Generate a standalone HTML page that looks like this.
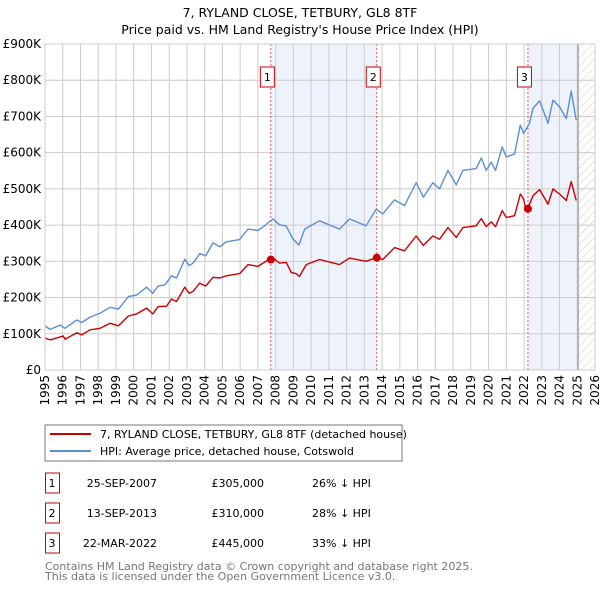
<!DOCTYPE html>
<html><head><meta charset="utf-8"><style>
body{margin:0;width:600px;height:590px;background:#fff;font-family:"Liberation Sans","DejaVu Sans",sans-serif;overflow:hidden}
svg text{font-family:"DejaVu Sans","Liberation Sans",sans-serif}
</style></head><body>
<svg id="c" width="600" height="590" xmlns="http://www.w3.org/2000/svg">
<defs><pattern id="hatch" width="6" height="6" patternUnits="userSpaceOnUse" patternTransform="rotate(45)"><line x1="0" y1="0" x2="0" y2="6" stroke="#ccc" stroke-width="1"/></pattern></defs>
<text x="300" y="17" text-anchor="middle" font-size="12.5">7, RYLAND CLOSE, TETBURY, GL8 8TF</text>
<text x="300" y="34" text-anchor="middle" font-size="12.5">Price paid vs. HM Land Registry's House Price Index (HPI)</text>
<g id="plot"></g>
<rect x="45" y="425" width="357" height="36" fill="#fff" stroke="#777"/>
<line x1="50" y1="434" x2="91" y2="434" stroke="#cc0000" stroke-width="2"/>
<text x="100" y="438" font-size="11">7, RYLAND CLOSE, TETBURY, GL8 8TF (detached house)</text>
<line x1="50" y1="451" x2="91" y2="451" stroke="#5b8fd6" stroke-width="2"/>
<text x="100" y="455" font-size="11">HPI: Average price, detached house, Cotswold</text>
<g id="tbl" font-size="11"></g>
<text x="45" y="570" font-size="11" fill="#777">Contains HM Land Registry data © Crown copyright and database right 2025.</text>
<text x="45" y="580" font-size="11" fill="#777">This data is licensed under the Open Government Licence v3.0.</text>
</svg>
<script>
const hpiYears=[1995.0,1995.28,1995.84,1996.13,1996.79,1997.07,1997.54,1998.11,1998.67,1999.14,1999.7,2000.17,2000.73,2001.07,2001.38,2001.76,2002.13,2002.41,2002.88,2003.13,2003.35,2003.72,2004.06,2004.47,2004.85,2005.22,2005.97,2006.44,2007.0,2007.29,2007.85,2008.22,2008.6,2008.97,2009.31,2009.64,2010.47,2011.6,2012.16,2013.1,2013.66,2014.04,2014.7,2015.26,2015.92,2016.33,2016.86,2017.24,2017.71,2018.18,2018.55,2019.3,2019.59,2019.87,2020.15,2020.39,2020.77,2021.0,2021.47,2021.79,2021.97,2022.31,2022.5,2022.88,2023.35,2023.63,2024.0,2024.38,2024.66,2024.94];
const hpiValues=[122,112,124,115,138,131,146,157,173,168,203,207,229,212,232,235,260,254,306,288,295,321,315,351,340,354,360,389,385,395,417,401,397,362,345,389,412,389,417,398,444,431,470,454,517,477,517,500,551,511,551,556,585,551,574,551,616,588,597,676,653,681,722,743,681,745,727,694,770,690];
const propYears=[1995.0,1995.28,1996.03,1996.13,1996.79,1997.07,1997.54,1998.11,1998.67,1999.14,1999.7,2000.17,2000.73,2001.07,2001.38,2001.85,2002.13,2002.41,2002.88,2003.13,2003.35,2003.72,2004.06,2004.47,2004.85,2005.22,2005.97,2006.44,2007.0,2007.29,2007.63,2007.85,2008.22,2008.6,2008.88,2009.16,2009.34,2009.72,2010.47,2011.6,2012.16,2013.1,2013.66,2014.04,2014.7,2015.26,2015.92,2016.33,2016.86,2017.24,2017.71,2018.18,2018.55,2019.3,2019.59,2019.87,2020.15,2020.39,2020.77,2021.0,2021.47,2021.79,2021.97,2022.1,2022.31,2022.5,2022.88,2023.35,2023.63,2024.0,2024.38,2024.66,2024.94];
const propValues=[88,83,94,85,103,97,111,115,129,122,149,155,171,155,175,176,196,189,229,212,217,240,232,256,254,260,266,291,286,295,305,309,295,297,269,266,258,291,305,291,309,300,310,305,338,329,370,344,370,361,393,366,393,398,418,396,409,396,440,421,426,486,472,445,458,481,498,458,500,486,468,520,468];
const saleYears=[2007.73,2013.70,2022.22];
const saleValues=[305,310,445];
const saleLabels=["1","2","3"];
const saleDates=["25-SEP-2007","13-SEP-2013","22-MAR-2022"];
const salePrices=["£305,000","£310,000","£445,000"];
const saleDiffs=["26% ↓ HPI","28% ↓ HPI","33% ↓ HPI"];
const yTicks=[0,100,200,300,400,500,600,700,800,900];
const yTickLabels=["£0","£100K","£200K","£300K","£400K","£500K","£600K","£700K","£800K","£900K"];
const xTicks=[1995,1996,1997,1998,1999,2000,2001,2002,2003,2004,2005,2006,2007,2008,2009,2010,2011,2012,2013,2014,2015,2016,2017,2018,2019,2020,2021,2022,2023,2024,2025,2026];
const dataEnd=2025.05;

const NS="http://www.w3.org/2000/svg";
const X0=45,X1=595,Y0=370,Y1=44;
const xs=y=>X0+(y-1995)/(2026-1995)*(X1-X0);
const ys=v=>Y0-v/900*(Y0-Y1);
const plot=document.getElementById('plot');
function mk(tag,attrs,parent){const e=document.createElementNS(NS,tag);for(const k in attrs)e.setAttribute(k,attrs[k]);(parent||plot).appendChild(e);return e;}
let s=mk('rect',{x:xs(saleYears[0]),y:Y1,width:xs(saleYears[1])-xs(saleYears[0]),height:Y0-Y1,fill:'#eef2fb'});


s=mk('rect',{x:xs(saleYears[2]),y:Y1,width:xs(dataEnd)-xs(saleYears[2]),height:Y0-Y1,fill:'#eef2fb'});


s=mk('rect',{x:xs(dataEnd),y:Y1,width:X1-xs(dataEnd),height:Y0-Y1,fill:'url(#hatch)'});


yTicks.forEach((v,i)=>{
 const l=mk('line',{x1:X0,x2:X1,y1:ys(v),y2:ys(v),stroke:'#ccc','stroke-width':1});
 
 
 const t=mk('text',{x:X0-4,y:ys(v)+4,'text-anchor':'end','font-size':'12'});
 t.textContent=yTickLabels[i];
 
 
});
xTicks.forEach(yr=>{
 const l=mk('line',{x1:xs(yr),x2:xs(yr),y1:Y1,y2:Y0,stroke:'#ccc','stroke-width':1});
 
 
 const t=mk('text',{x:0,y:0,'text-anchor':'end','font-size':'12',transform:`translate(${xs(yr)+4},${Y0+5}) rotate(-90)`});
 t.textContent=yr;
 
 
});
let dl=mk('line',{x1:xs(dataEnd),x2:xs(dataEnd),y1:Y1,y2:Y0,stroke:'#888','stroke-width':1});


saleYears.forEach((yr,i)=>{
 const l=mk('line',{x1:xs(yr),x2:xs(yr),y1:Y1,y2:Y0,stroke:'#e55','stroke-width':1,'stroke-dasharray':'2,2'});
 
 
 const b=mk('rect',{x:xs(yr)-10.5,y:67,width:14,height:20,fill:'#fff',stroke:'#cc0000','stroke-width':1});
 
 
 const t=mk('text',{x:xs(yr)-3.5,y:81,'text-anchor':'middle','font-size':'11'});
 t.textContent=saleLabels[i];
 
 
});
function line(xa,va,col,name){
 const d=xa.map((yr,i)=>(i?'L':'M')+xs(yr).toFixed(1)+','+ys(va[i]).toFixed(1)).join('');
 const p=mk('path',{d:d,fill:'none',stroke:col,'stroke-width':1.4,'stroke-linejoin':'round'});
 
 
}
line(hpiYears,hpiValues,'#5b8fd6','hpi-line');
line(propYears,propValues,'#cc0000','property-price-line');
saleYears.forEach((yr,i)=>{
 const c=mk('circle',{cx:xs(yr),cy:ys(saleValues[i]),r:4,fill:'#cc0000'});
 
 
});
let ax=mk('rect',{x:X0,y:Y1,width:X1-X0,height:Y0-Y1,fill:'none',stroke:'#ccc'});


const tbl=document.getElementById('tbl');
saleLabels.forEach((lab,i)=>{
 const y=483+i*30;
 const b=mk('rect',{x:45.5,y:y-10,width:14,height:20,fill:'none',stroke:'#cc0000'},tbl);
 
 
 const cols=[[52,lab,'middle'],[157,saleDates[i],'end'],[264,salePrices[i],'end'],[312,saleDiffs[i],'start']];
 cols.forEach((c,j)=>{
  const t=mk('text',{x:c[0],y:y+4,'text-anchor':c[2]},tbl);
  t.textContent=c[1];
  
  
 });
});
</script>
</body></html>
